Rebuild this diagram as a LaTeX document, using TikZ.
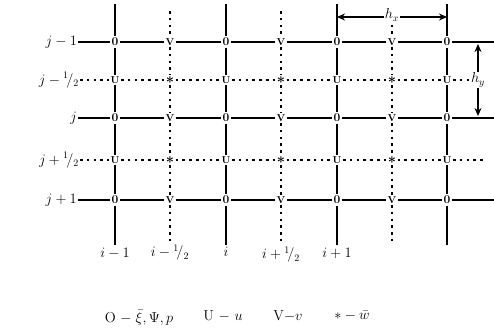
\documentclass[tikz,border=0pt]{standalone}
\usepackage{amsmath}
\usepackage{tikz}
\usetikzlibrary{
  arrows.meta,
  positioning
}
\newcommand{\hlf}{{}^{1}\!/_{2}}
\tikzset{
  gridpt/.style={
    inner sep=1.3pt,
    font=\normalsize\bfseries,
  },
  solidln/.style={
    line width=2.3pt,
  },
  dotln/.style={
    line width=2.5pt,
    dash pattern=on 2.6pt off 4.2pt,
  },
  dimarr/.style={
    {Stealth[length=8pt,width=7pt]}-{Stealth[length=8pt,width=7pt]},
    line width=2pt,
  },
  lbl/.style={
    font=\Large,
    inner sep=1pt,
  },
}

\begin{document}
\begin{tikzpicture}[x=1pt, y=-1pt]
  \useasboundingbox (0,0) rectangle (494,335);

  % grid points: 0, U, V, *
  \foreach \c/\x in {1/115,3/226,5/337,7/447} {
    \foreach \r/\y in {1/42,3/118,5/200} \node[gridpt, font=\large\bfseries] (p\c\r) at (\x,\y) {0};
    \foreach \r/\y in {2/80,4/160} \node[gridpt] (p\c\r) at (\x,\y) {U};
  }
  \foreach \c/\x in {2/170,4/281,6/392} {
    \foreach \r/\y in {1/42,3/118,5/200} \node[gridpt] (p\c\r) at (\x,\y) {V};
    \foreach \r/\y in {2/80,4/160} \node[gridpt, font=\Large\boldmath] (p\c\r) at (\x,\y) {$\ast$};
  }

  % row labels j
  \node[lbl, anchor=east] (r1) at (78,42) {$j-1$};
  \node[lbl, anchor=east] (r2) at (80,80) {$j-\hlf$};
  \node[lbl, anchor=east] (r3) at (78,118) {$j$};
  \node[lbl, anchor=east] (r4) at (80,160) {$j+\hlf$};
  \node[lbl, anchor=east] (r5) at (78,200) {$j+1$};

  % free ends of the lines
  \foreach \r/\y in {1/42,3/118,5/200} \coordinate (e\r) at (494,\y);
  \foreach \r/\y in {2/80,4/160} \coordinate (e\r) at (486,\y);
  \foreach \c/\x in {1/115,3/226,5/337,7/447} {
    \coordinate (t\c) at (\x,4);
    \coordinate (b\c) at (\x,245);
  }
  \foreach \c/\x in {2/170,4/281,6/392} {
    \coordinate (t\c) at (\x,11);
    \coordinate (b\c) at (\x,241);
  }

  % rows
  \foreach \r in {1,3,5}
    \draw[solidln] (r\r) -- (p1\r) -- (p2\r) -- (p3\r) -- (p4\r) -- (p5\r) -- (p6\r) -- (p7\r) -- (e\r);
  \foreach \r in {2,4}
    \draw[dotln] (r\r) -- (p1\r) -- (p2\r) -- (p3\r) -- (p4\r) -- (p5\r) -- (p6\r) -- (p7\r) -- (e\r);

  % columns
  \foreach \c in {1,3,5,7}
    \draw[solidln] (t\c) -- (p\c1) -- (p\c2) -- (p\c3) -- (p\c4) -- (p\c5) -- (b\c);
  \foreach \c in {2,4,6}
    \draw[dotln] (t\c) -- (p\c1) -- (p\c2) -- (p\c3) -- (p\c4) -- (p\c5) -- (b\c);

  % column labels i
  \node[lbl, below=2pt of b1] (i1) {$i-1$};
  \node[lbl, below=3pt of b2] (i2) {$i-\hlf$};
  \node[lbl, below=1pt of b3] (i3) {$i$};
  \node[lbl, below=5pt of b4] (i4) {$i+\hlf$};
  \node[lbl, below=2pt of b5] (i5) {$i+1$};

  % mesh steps
  \coordinate (hxl) at (337,17);
  \coordinate (hxr) at (447,17);
  \draw[dimarr] (hxl) -- node[lbl, fill=white, yshift=2pt] (hx) {$h_x$} (hxr);
  \coordinate (hyt) at (478,44);
  \coordinate (hyb) at (478,116);
  \draw[dimarr] (hyt) -- node[lbl, fill=white] (hy) {$h_y$} (hyb);

  % legend
  \node[lbl] (leg1) at (139,318) {O $-\;\bar{\xi},\Psi,p$};
  \node[lbl] (leg2) at (223,316) {U $-$ $u$};
  \node[lbl] (leg3) at (288,316) {V$-v$};
  \node[lbl] (leg4) at (352,316) {$\ast-\bar{w}$};
\end{tikzpicture}
\end{document}
